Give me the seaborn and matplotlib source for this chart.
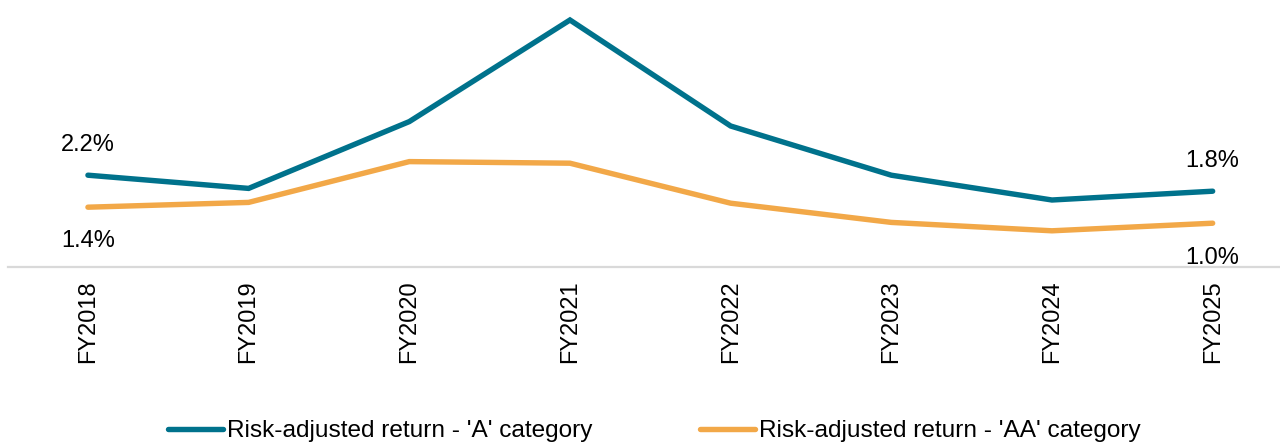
import matplotlib
matplotlib.use("Agg")
import matplotlib.pyplot as plt
import seaborn as sns
import pandas as pd

years = ["FY2018", "FY2019", "FY2020", "FY2021", "FY2022", "FY2023", "FY2024", "FY2025"]
return_a = [2.2, 1.87, 3.54, 6.08, 3.43, 2.2, 1.58, 1.8]
return_aa = [1.4, 1.52, 2.54, 2.50, 1.50, 1.02, 0.81, 1.0]
series_names = ["Risk-adjusted return - 'A' category", "Risk-adjusted return - 'AA' category"]

sns.set_theme(style="white")
plt.rcParams["font.family"] = ["Liberation Sans", "DejaVu Sans"]
plt.rcParams["text.color"] = "black"
plt.rcParams["xtick.color"] = "black"

df = pd.DataFrame({
    "year": years * 2,
    "value": return_a + return_aa,
    "series": [series_names[0]] * len(years) + [series_names[1]] * len(years),
})

colors = {series_names[0]: "#00728C", series_names[1]: "#F2A848"}

fig = plt.figure(figsize=(12.8, 4.45), dpi=100)
W, H = 1280, 445
left_px, right_px, top_px, base_px = 7.6, 1293, 0, 266.7
ax = fig.add_axes([left_px / W, (H - base_px) / H, (right_px - left_px) / W, (base_px - top_px) / H])

sns.lineplot(data=df, x="year", y="value", hue="series", palette=colors,
             linewidth=3.9, sort=False, ax=ax, solid_capstyle="round",
             solid_joinstyle="miter")

ax.set_xlim(-0.5, 7.5)
ax.set_ylim(-0.0875, 6.58)
ax.set_xlabel("")
ax.set_ylabel("")
ax.set_yticks([])
for s in ["top", "left", "right"]:
    ax.spines[s].set_visible(False)
ax.spines["bottom"].set_color("#D9D9D9")
ax.spines["bottom"].set_linewidth(1.6)
ax.tick_params(axis="x", length=0, pad=10, labelsize=17, labelrotation=90, labelcolor="black")

# value labels at the first and last points
fs = 17
ax.annotate(f"{return_a[0]:.1f}%", (0, return_a[0]), xytext=(0, 22), textcoords="offset points",
            ha="center", va="center", fontsize=fs)
ax.annotate(f"{return_aa[0]:.1f}%", (0, return_aa[0]), xytext=(0, -24), textcoords="offset points",
            ha="center", va="center", fontsize=fs)
ax.annotate(f"{return_a[-1]:.1f}%", (7, return_a[-1]), xytext=(0, 22), textcoords="offset points",
            ha="center", va="center", fontsize=fs)
ax.annotate(f"{return_aa[-1]:.1f}%", (7, return_aa[-1]), xytext=(0, -25), textcoords="offset points",
            ha="center", va="center", fontsize=fs)

handles, labels = ax.get_legend_handles_labels()
ax.legend_.remove()
leg = fig.legend(handles, labels, loc="center", bbox_to_anchor=(0.511, 0.031), ncol=2,
                 frameon=False, fontsize=17.6, handlelength=2.25, handletextpad=0.16,
                 columnspacing=4.4, borderpad=0)
for t in leg.get_texts():
    t.set_color("black")

fig.savefig("out.png", dpi=100)
